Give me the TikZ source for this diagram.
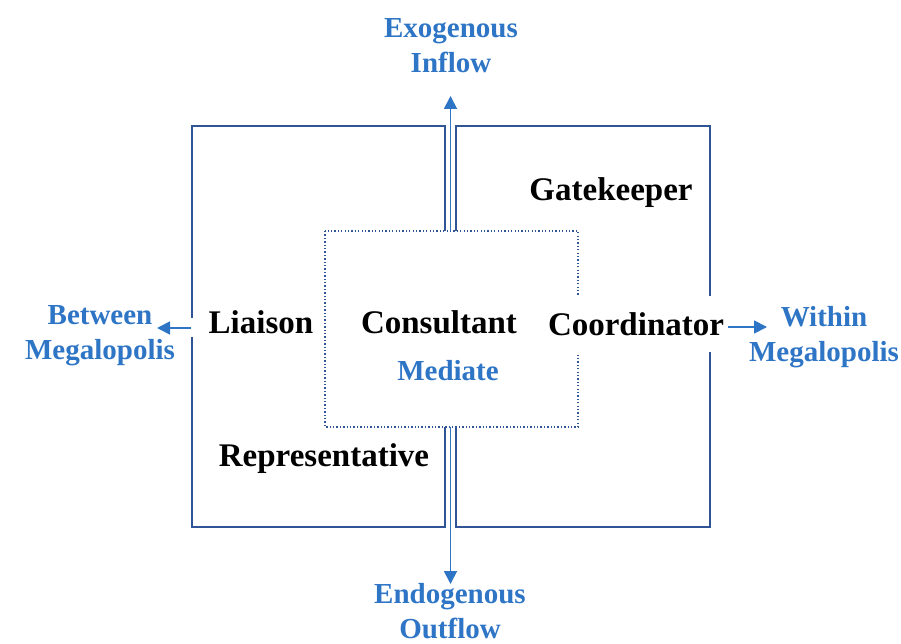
\documentclass[tikz,border=0pt]{standalone}
\usepackage{fontspec}
\setmainfont{Liberation Serif}
\usetikzlibrary{arrows.meta}
\definecolor{boxblue}{HTML}{2F5597}
\definecolor{txtblue}{HTML}{2E75C6}
\begin{document}
\begin{tikzpicture}[x=1pt,y=-1pt,
  frame/.style={draw=boxblue,line width=2pt},
  dotline/.style={draw=boxblue,line width=2.2pt,dash pattern=on 1.3pt off 2.1pt},
  flow/.style={draw=txtblue,line width=1.8pt,-{Triangle[length=13pt,width=13pt]}},
  role/.style={font=\fontsize{33}{38}\selectfont\bfseries,text=black,inner sep=1pt},
  dirlabel/.style={font=\fontsize{29}{35}\selectfont\bfseries,text=txtblue,align=center,inner sep=1pt}]
\useasboundingbox (0,0) rectangle (901,644);
% outer frames
\draw[frame] (445,231) -- (445,126) -- (192,126) -- (192,318);
\draw[frame] (192,337) -- (192,527) -- (445,527) -- (445,427);
\draw[frame] (456,231) -- (456,126) -- (710,126) -- (710,527) -- (456,527) -- (456,427);
% inner dotted box
\draw[dotline] (325,231) rectangle (578,427);
% role labels
\node[role] (gate) at (611,193) {Gatekeeper};
\node[role] (liaison) at (261,322) {Liaison};
\node[role] (consult) at (439,322) {Consultant};
\node[role,fill=white,minimum height=56pt,inner xsep=3pt] (coord) at (636,324) {Coordinator};
\node[role] (rep) at (324,459) {Representative};
\node[dirlabel] (mediate) at (448,371) {Mediate};
% direction labels
\node[dirlabel] (exo) at (451,46) {Exogenous\\Inflow};
\node[dirlabel] (endo) at (450,611) {Endogenous\\Outflow};
\node[dirlabel] (between) at (100,336) {Between\\Megalopolis};
\node[dirlabel] (within) at (824,337) {Within\\Megalopolis};
% flows
\coordinate (upS) at (450.5,231);
\coordinate (upE) at (450.5,96);
\coordinate (dnS) at (450.5,427);
\coordinate (dnE) at (450.5,584);
\coordinate (lfS) at (191,328);
\coordinate (lfE) at (157,328);
\coordinate (rtS) at (728,327);
\coordinate (rtE) at (767,327);
\draw[flow] (upS) -- (upE);
\draw[flow] (dnS) -- (dnE);
\draw[flow] (lfS) -- (lfE);
\draw[flow] (rtS) -- (rtE);
\end{tikzpicture}
\end{document}
